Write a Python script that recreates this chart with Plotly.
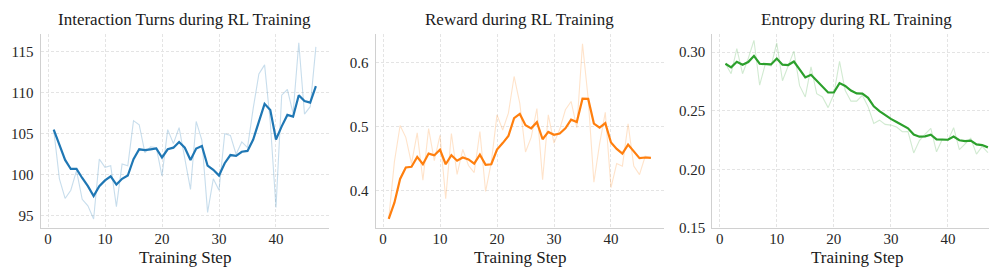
import plotly.graph_objects as go

steps = list(range(1, 48))

turns_raw = [105.5, 99.5, 97.1, 98.1, 100.5, 97.0, 96.2, 94.6, 101.9, 100.9,
             101.1, 96.1, 101.3, 101.1, 106.6, 106.1, 102.7, 103.4, 103.3, 99.85,
             105.5, 103.8, 105.75, 101.9, 98.2, 106.5, 104.2, 95.4, 99.5, 98.1,
             105.0, 104.8, 102.5, 104.0, 103.3, 108.1, 112.3, 113.4, 106.4, 96.0,
             109.7, 110.4, 107.5, 116.1, 107.4, 108.3, 115.6]
turns_smooth = [105.5, 103.7, 101.8, 100.7, 100.7, 99.6, 98.6, 97.4, 98.6, 99.3,
                99.8, 98.8, 99.5, 99.9, 101.9, 103.1, 103.0, 103.1, 103.2, 102.1,
                103.1, 103.3, 104.0, 103.3, 101.8, 103.2, 103.5, 101.1, 100.6, 99.9,
                101.4, 102.4, 102.3, 102.8, 102.9, 104.3, 106.6, 108.65, 107.9, 104.3,
                105.9, 107.3, 107.1, 109.7, 109.0, 108.8, 110.8]

reward_raw = [0.3556, 0.445, 0.5015, 0.483, 0.442, 0.490, 0.416, 0.4965, 0.4465, 0.486,
              0.387, 0.489, 0.425, 0.464, 0.439, 0.428, 0.492, 0.3985, 0.444, 0.518,
              0.4945, 0.5207, 0.578, 0.536, 0.460, 0.483, 0.528, 0.417, 0.518, 0.474,
              0.4955, 0.526, 0.539, 0.498, 0.629, 0.543, 0.413, 0.4727, 0.522, 0.4045,
              0.442, 0.438, 0.504, 0.438, 0.4247, 0.4535, 0.4515]
reward_smooth = [0.3556, 0.381, 0.418, 0.436, 0.437, 0.4525, 0.441, 0.4576, 0.455, 0.4636,
                 0.441, 0.455, 0.4465, 0.4515, 0.4485, 0.442, 0.456, 0.440, 0.441, 0.464,
                 0.474, 0.485, 0.513, 0.5195, 0.502, 0.497, 0.5066, 0.480, 0.4914, 0.487,
                 0.489, 0.497, 0.5106, 0.507, 0.5434, 0.543, 0.5045, 0.498, 0.505, 0.475,
                 0.465, 0.4576, 0.4717, 0.4616, 0.4505, 0.4515, 0.451]

entropy_raw = [0.290, 0.2815, 0.303, 0.2815, 0.2945, 0.310, 0.2717, 0.290, 0.288, 0.3077,
               0.2755, 0.2879, 0.3008, 0.2713, 0.2617, 0.2873, 0.2645, 0.2617, 0.2526, 0.264,
               0.292, 0.2672, 0.2581, 0.2581, 0.2631, 0.2534, 0.2391, 0.2419, 0.2383, 0.2377,
               0.236, 0.232, 0.2322, 0.214, 0.2245, 0.230, 0.235, 0.2149, 0.2255, 0.2246,
               0.2355, 0.2168, 0.2212, 0.2264, 0.213, 0.2196, 0.2143]
entropy_smooth = [0.290, 0.2869, 0.2917, 0.2892, 0.2914, 0.2967, 0.290, 0.290, 0.2894, 0.2944,
                  0.2892, 0.2889, 0.2919, 0.2853, 0.2783, 0.2806, 0.2756, 0.2706, 0.2655, 0.2655,
                  0.2735, 0.2711, 0.2672, 0.2647, 0.2645, 0.2609, 0.2537, 0.2496, 0.2460, 0.2430,
                  0.2403, 0.2373, 0.2350, 0.2296, 0.2278, 0.2281, 0.2295, 0.2255, 0.2255, 0.2252,
                  0.2280, 0.2248, 0.2241, 0.2245, 0.2212, 0.2207, 0.2187]

titles = ["Interaction Turns during RL Training", "Reward during RL Training",
          "Entropy during RL Training"]
x_label = "Training Step"
x_ticks = [0, 10, 20, 30, 40]
y_ticks = [[95, 100, 105, 110, 115], [0.4, 0.5, 0.6], [0.15, 0.20, 0.25, 0.30]]
y_fmt = ["d", ".1f", ".2f"]
y_ranges = [[93.5, 117.15], [0.3415, 0.644], [0.15, 0.3152]]
colors = ["#1f77b4", "#ff7f0e", "#2ca02c"]
faint = ["rgba(31,119,180,0.25)", "rgba(255,127,14,0.22)", "rgba(44,160,44,0.22)"]

W, H = 997, 269
x_px = [(32.6, 321.0), (367.6, 656.0), (704.3, 993.0)]
y_dom = [(H - 226.7) / H, (H - 27) / H]

FONT = "Liberation Serif"
GRID = "#e4e4e4"
DASH = "3px,2px"
fig = go.Figure()
series = [(turns_raw, turns_smooth), (reward_raw, reward_smooth), (entropy_raw, entropy_smooth)]
for i, (raw, sm) in enumerate(series):
    xa = "x" if i == 0 else f"x{i+1}"
    ya = "y" if i == 0 else f"y{i+1}"
    fig.add_trace(go.Scatter(x=steps, y=raw, mode="lines", line=dict(color=faint[i], width=1.1),
                             xaxis=xa, yaxis=ya, showlegend=False, hoverinfo="skip"))
    fig.add_trace(go.Scatter(x=steps, y=sm, mode="lines", line=dict(color=colors[i], width=2.2),
                             xaxis=xa, yaxis=ya, showlegend=False))

layout = dict(width=W, height=H, margin=dict(l=0, r=0, t=0, b=0),
              paper_bgcolor="white", plot_bgcolor="white",
              font=dict(family=FONT, color="#262626", size=14))
annotations = []
for i in range(3):
    sx = "" if i == 0 else str(i + 1)
    x0, x1 = x_px[i]
    layout["xaxis" + sx] = dict(domain=[x0 / W, x1 / W], range=[-1.3, 49.3], anchor="y" + sx,
                                tickvals=x_ticks, showgrid=True, gridcolor=GRID, griddash=DASH,
                                gridwidth=1, showline=True, linecolor="#d0d0d0", linewidth=1.3,
                                zeroline=False, ticks="", ticklabelstandoff=-3,
                                tickfont=dict(family=FONT, size=15, color="#262626"))
    layout["yaxis" + sx] = dict(domain=list(y_dom), range=y_ranges[i], anchor="x" + sx,
                                tickvals=y_ticks[i], tickformat=y_fmt[i], showgrid=True,
                                gridcolor=GRID, griddash=DASH, gridwidth=1,
                                showline=True, linecolor="#d0d0d0", linewidth=1.3,
                                zeroline=False, ticks="", ticklabelstandoff=3,
                                tickfont=dict(family=FONT, size=15, color="#262626"))
    cx = (x0 + x1) / 2 / W
    annotations.append(dict(text=titles[i], x=cx, y=(H - 12) / H, xref="paper", yref="paper",
                            showarrow=False, xanchor="center", yanchor="middle",
                            font=dict(family=FONT, size=17, color="#1a1a1a")))
    annotations.append(dict(text=x_label, x=cx, y=(H - 257) / H, xref="paper", yref="paper",
                            showarrow=False, xanchor="center", yanchor="middle",
                            font=dict(family=FONT, size=17, color="#1a1a1a")))
layout["annotations"] = annotations
fig.update_layout(**layout)
fig.write_html("out.html")
